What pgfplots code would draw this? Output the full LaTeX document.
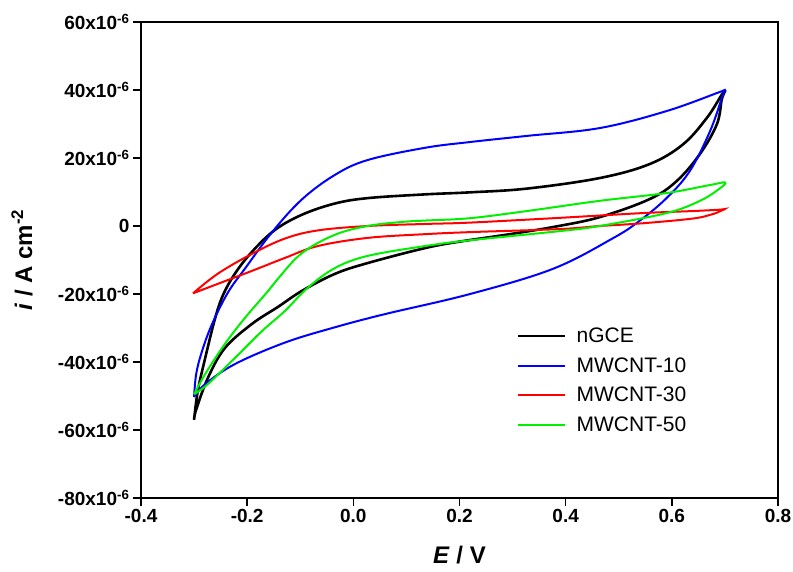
\documentclass[border=0pt]{standalone}
\usepackage{fontspec}
\setmainfont{Liberation Sans}
\usepackage{pgfplots}
\pgfplotsset{compat=1.18}
\definecolor{cvblue}{RGB}{0,0,255}
\definecolor{cvred}{RGB}{255,0,0}
\definecolor{cvgreen}{RGB}{0,240,0}
\begin{document}
\begin{tikzpicture}
\begin{axis}[
  scale only axis, width=637pt, height=476pt,
  xmin=-0.4, xmax=0.8, ymin=-80, ymax=60,
  axis line style={line width=2.2pt},
  tick style={line width=1.5pt, black},
  tick align=outside, xtick pos=bottom, ytick pos=left,
  major tick length=8pt,
  xtick={-0.4,-0.2,0,0.2,0.4,0.6,0.8},
  xticklabels={-0.4,-0.2,0.0,0.2,0.4,0.6,0.8},
  ytick={-80,-60,-40,-20,0,20,40,60},
  yticklabels={-80x10\textsuperscript{-6},-60x10\textsuperscript{-6},-40x10\textsuperscript{-6},-20x10\textsuperscript{-6},0,20x10\textsuperscript{-6},40x10\textsuperscript{-6},60x10\textsuperscript{-6}},
  ticklabel style={font=\fontsize{19}{22}\selectfont\bfseries},
  xlabel={\textit{E} / V},
  ylabel={\textit{i} / A cm\textsuperscript{-2}},
  xlabel style={font=\fontsize{24}{28}\selectfont\bfseries, at={(axis description cs:0.5,-0.1197)}, anchor=center},
  ylabel style={font=\fontsize{24}{28}\selectfont\bfseries, at={(axis description cs:-0.1868,0.5)}, anchor=center},
  legend style={draw=none, fill=none, at={(rel axis cs:0.590,0.362)}, anchor=north west,
    font=\fontsize{21}{24}\selectfont, row sep=9.5pt, inner sep=0pt,
    /tikz/every odd column/.append style={column sep=8pt}},
  legend cell align=left,
  legend image code/.code={\draw[#1] (0pt,0pt) -- (47pt,0pt);},
  every axis plot/.append style={smooth, tension=0.6},
]
\addplot[black, line width=2.6pt] coordinates {
(-0.300,-57) (-0.293,-48.5) (-0.279,-38.8) (-0.261,-27.5) (-0.246,-20.5) (-0.223,-14) (-0.191,-7.6) (-0.148,-1.2) (-0.097,3.3) (-0.035,6.6) (0.027,8.2) (0.135,9.3) (0.220,9.9) (0.327,11) (0.464,14.1) (0.558,18.2) (0.621,24) (0.666,31.8) (0.694,38.6) (0.700,39.6)
(0.694,37.2) (0.685,30) (0.653,21.2) (0.609,13.2) (0.558,7.9) (0.464,2.6) (0.380,-0.2) (0.295,-2.4) (0.200,-4.6) (0.135,-6.5) (0.027,-10.9) (-0.035,-14.1) (-0.097,-19.1) (-0.142,-23.8) (-0.191,-28.8) (-0.242,-35.9) (-0.274,-44.7) (-0.296,-54) (-0.300,-57)
};
\addlegendentry{nGCE}
\addplot[cvblue, line width=2pt] coordinates {
(-0.300,-50.3) (-0.296,-43.5) (-0.285,-36.8) (-0.266,-28.8) (-0.236,-19.5) (-0.204,-12.5) (-0.153,-1.8) (-0.097,7.8) (-0.035,15) (0.027,19.4) (0.135,23) (0.220,24.7) (0.327,26.5) (0.464,28.8) (0.590,33.8) (0.690,39.4) (0.700,40)
(0.695,38) (0.672,27.9) (0.634,16.2) (0.590,8.2) (0.539,1.5) (0.489,-3.6) (0.376,-12.6) (0.220,-20) (0.060,-25.9) (-0.035,-29.8) (-0.129,-34.3) (-0.223,-40.6) (-0.279,-46.5) (-0.300,-50.3)
};
\addlegendentry{MWCNT-10}
\addplot[cvred, line width=2pt] coordinates {
(-0.302,-19.8) (-0.255,-14) (-0.191,-8.2) (-0.129,-3.7) (-0.067,-1.3) (0.027,0) (0.135,0.6) (0.220,1) (0.389,2.4) (0.545,3.8) (0.640,4.4) (0.690,4.8) (0.700,5)
(0.690,4.3) (0.677,3.5) (0.640,2.2) (0.545,0.8) (0.464,0) (0.389,-0.9) (0.220,-1.8) (0.135,-2.4) (0.027,-3.5) (-0.067,-5.9) (-0.129,-9.4) (-0.191,-13.2) (-0.255,-17) (-0.302,-19.8)
};
\addlegendentry{MWCNT-30}
\addplot[cvgreen, line width=2pt] coordinates {
(-0.300,-49.5) (-0.279,-43.5) (-0.242,-34.7) (-0.204,-27) (-0.161,-19.2) (-0.142,-15.5) (-0.097,-8) (-0.035,-2.6) (0.027,0) (0.092,1.2) (0.135,1.6) (0.220,2.3) (0.327,4.4) (0.464,7.4) (0.590,9.7) (0.670,12) (0.700,12.8)
(0.690,11) (0.653,7.4) (0.590,3.8) (0.464,0) (0.389,-1.5) (0.220,-4.2) (0.135,-5.9) (0.027,-8.8) (-0.035,-12.4) (-0.086,-18.2) (-0.129,-25) (-0.172,-30.9) (-0.223,-38.8) (-0.274,-46.5) (-0.300,-49.5)
};
\addlegendentry{MWCNT-50}
\coordinate (sw) at (rel axis cs:0,0);
\coordinate (ne) at (rel axis cs:1,1);
\end{axis}
\pgfresetboundingbox
\path ([shift={(-141pt,-74pt)}]sw) rectangle ([shift={(15pt,22pt)}]ne);
\end{tikzpicture}
\end{document}
